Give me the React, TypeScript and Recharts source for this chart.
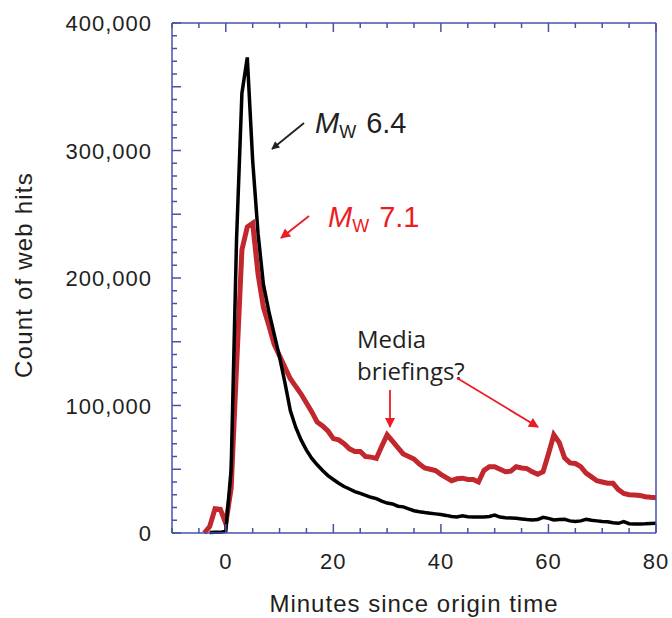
import React from 'react';
import { Line, LineChart, XAxis, YAxis } from 'recharts';

// minutes since origin time
const minutes = [
  -4, -3, -2, -1, 0, 1, 2, 3, 4, 5, 6, 7, 8, 9, 10, 11, 12, 13, 14, 15, 16, 17, 18, 19, 20,
  21, 22, 23, 24, 25, 26, 27, 28, 29, 30, 31, 32, 33, 34, 35, 36, 37, 38, 39, 40, 41, 42, 43,
  44, 45, 46, 47, 48, 49, 50, 51, 52, 53, 54, 55, 56, 57, 58, 59, 60, 61, 62, 63, 64, 65, 66,
  67, 68, 69, 70, 71, 72, 73, 74, 75, 76, 77, 78, 79, 80,
];

// Mw 6.4 (black)
const hitsMw64 = [
  null, 300, 500, 500, 1500, 50000, 230000, 345000, 373000, 292000, 235000, 195000, 174000,
  156000, 138000, 118000, 96000, 83000, 73000, 65000, 58500, 53500, 49000, 45000, 42000, 39000,
  36500, 34500, 32500, 31000, 29500, 28000, 27000, 25000, 23500, 22800, 21000, 20500, 19000,
  17500, 16700, 16000, 15500, 15000, 14500, 13800, 13000, 12500, 13500, 12800, 12500, 12500,
  12500, 13000, 14000, 12500, 12000, 11800, 11500, 11000, 10500, 10200, 10500, 12300, 11500,
  10200, 10500, 10800, 9500, 9000, 9500, 10700, 10000, 9500, 9000, 8800, 8000, 7600, 8900,
  7300, 7000, 7000, 7200, 7500, 7600,
];

// Mw 7.1 (red)
const hitsMw71 = [
  0, 5000, 19000, 18500, 7500, 35000, 130000, 222000, 240000, 243000, 203000, 177000, 163000,
  148000, 139000, 130000, 121000, 115000, 109000, 102000, 95000, 87000, 84000, 80000, 74000,
  73000, 70000, 66000, 64000, 64000, 60000, 59500, 58500, 68000, 77000, 72000, 67000, 62000,
  60000, 58000, 54000, 51000, 50000, 49000, 46000, 43500, 41000, 42500, 43000, 42000, 42000,
  40000, 49000, 52000, 52000, 50000, 48000, 48500, 52000, 51000, 50500, 48000, 46000, 48000,
  62000, 77000, 71000, 59000, 55000, 54500, 52000, 47000, 44000, 41000, 40000, 39000, 39000,
  34000, 31000, 30000, 29800, 29500, 28500, 28000, 27700,
];

const xTicks = [-10, -5, 0, 5, 10, 15, 20, 25, 30, 35, 40, 45, 50, 55, 60, 65, 70, 75, 80];
const xLabels = [0, 20, 40, 60, 80];
const yTicks = [
  0, 10000, 20000, 30000, 40000, 50000, 60000, 70000, 80000, 90000, 100000, 110000, 120000,
  130000, 140000, 150000, 160000, 170000, 180000, 190000, 200000, 210000, 220000, 230000,
  240000, 250000, 260000, 270000, 280000, 290000, 300000, 310000, 320000, 330000, 340000,
  350000, 360000, 370000, 380000, 390000, 400000,
];
const yLabels = [0, 100000, 200000, 300000, 400000];

const data = minutes.map((m, i) => ({ m, mw64: hitsMw64[i], mw71: hitsMw71[i] }));

const AXIS = '#4652a8';
const INK = '#231f20';
const RED_LINE = '#c1272d';
const RED_TEXT = '#ed1c24';
const SANS = '"Liberation Sans", Arial, Helvetica, sans-serif';
const HUMANIST = '"Open Sans", "Noto Sans", sans-serif';

const tickLen = (major: boolean) => (major ? 9 : 5);

function XTick({ x, y, payload, top }: any) {
  const v = payload.value as number;
  const major = v % 20 === 0;
  const dir = top ? 1 : -1;
  return (
    <g>
      <line x1={x} x2={x} y1={y} y2={y + dir * tickLen(major)} stroke={AXIS} strokeWidth={1.5} />
      {!top && xLabels.includes(v) && (
        <text x={x} y={y + 36} textAnchor="middle" fontSize={22} letterSpacing={1} fontFamily={SANS} fill={INK}>
          {v}
        </text>
      )}
    </g>
  );
}

function YTick({ x, y, payload, right }: any) {
  const v = payload.value as number;
  const major = v % 50000 === 0;
  const dir = right ? -1 : 1;
  return (
    <g>
      <line x1={x} x2={x + dir * tickLen(major)} y1={y} y2={y} stroke={AXIS} strokeWidth={1.5} />
      {!right && yLabels.includes(v) && (
        <text
          x={x - 20}
          y={y + 8}
          textAnchor="end"
          fontSize={22}
          letterSpacing={1}
          fontFamily={SANS}
          fill={INK}
        >
          {v.toLocaleString('en-US')}
        </text>
      )}
    </g>
  );
}

export default function App() {
  return (
    <div style={{ position: 'fixed', left: 0, top: 0, width: 672, height: 618, background: '#fff' }}>
      <LineChart width={672} height={618} data={data} margin={{ top: 22, right: 15, bottom: 84, left: 171 }}>
        <XAxis
          xAxisId="b"
          dataKey="m"
          type="number"
          domain={[-10, 80]}
          ticks={xTicks}
          interval={0}
          height={1}
          tickSize={0}
          tickMargin={0}
          axisLine={{ stroke: AXIS, strokeWidth: 1.5 }}
          tickLine={false}
          tick={<XTick />}
        />
        <XAxis
          xAxisId="t"
          orientation="top"
          dataKey="m"
          type="number"
          domain={[-10, 80]}
          ticks={xTicks}
          interval={0}
          height={1}
          tickSize={0}
          tickMargin={0}
          axisLine={{ stroke: AXIS, strokeWidth: 1.5 }}
          tickLine={false}
          tick={<XTick top />}
        />
        <YAxis
          yAxisId="l"
          type="number"
          domain={[0, 400000]}
          ticks={yTicks}
          interval={0}
          width={1}
          tickSize={0}
          tickMargin={0}
          axisLine={{ stroke: AXIS, strokeWidth: 1.5 }}
          tickLine={false}
          tick={<YTick />}
        />
        <YAxis
          yAxisId="r"
          orientation="right"
          type="number"
          domain={[0, 400000]}
          ticks={yTicks}
          interval={0}
          width={1}
          tickSize={0}
          tickMargin={0}
          axisLine={{ stroke: AXIS, strokeWidth: 1.5 }}
          tickLine={false}
          tick={<YTick right />}
        />
        <Line
          xAxisId="b"
          yAxisId="l"
          dataKey="mw71"
          stroke={RED_LINE}
          strokeWidth={5}
          dot={false}
          type="linear"
          isAnimationActive={false}
        />
        <Line
          xAxisId="b"
          yAxisId="l"
          dataKey="mw64"
          stroke="#000"
          strokeWidth={3.5}
          dot={false}
          type="linear"
          isAnimationActive={false}
        />
      </LineChart>
      <svg
        width={672}
        height={618}
        style={{ position: 'absolute', left: 0, top: 0, pointerEvents: 'none' }}
      >
        <defs>
          <marker id="headBlack" viewBox="0 0 10 10" refX="9" refY="5" markerWidth="9" markerHeight="8" markerUnits="userSpaceOnUse" orient="auto">
            <path d="M0,0 L10,5 L0,10 z" fill={INK} />
          </marker>
          <marker id="headRed" viewBox="0 0 10 10" refX="9" refY="5" markerWidth="11" markerHeight="10" markerUnits="userSpaceOnUse" orient="auto">
            <path d="M0,0 L10,5 L0,10 z" fill={RED_TEXT} />
          </marker>
        </defs>
        <text
          transform="translate(32,275) rotate(-90)"
          textAnchor="middle"
          fontSize={24}
          letterSpacing={1.2}
          fontFamily={SANS}
          fill={INK}
        >
          Count of web hits
        </text>
        <text x={414} y={612} textAnchor="middle" fontSize={24} letterSpacing={1} fontFamily={SANS} fill={INK}>
          Minutes since origin time
        </text>

        <text x={315} y={133} fontSize={29} fontFamily={SANS} fill={INK}>
          <tspan fontStyle="italic">M</tspan>
          <tspan fontSize={18} dy={5}>W</tspan>
          <tspan dy={-5} dx={10}>6.4</tspan>
        </text>
        <line x1={304} y1={123} x2={272} y2={149} stroke={INK} strokeWidth={1.8} markerEnd="url(#headBlack)" />

        <text x={328} y={227} fontSize={29} fontFamily={SANS} fill={RED_TEXT}>
          <tspan fontStyle="italic">M</tspan>
          <tspan fontSize={18} dy={5}>W</tspan>
          <tspan dy={-5} dx={10}>7.1</tspan>
        </text>
        <line x1={309} y1={216} x2={281} y2={238} stroke={RED_TEXT} strokeWidth={1.8} markerEnd="url(#headRed)" />

        <text fontSize={24} fontFamily={HUMANIST} fill={INK}>
          <tspan x={357} y={348}>Media</tspan>
          <tspan x={357} y={380}>briefings?</tspan>
        </text>
        <line x1={390} y1={390} x2={390} y2={427} stroke={RED_TEXT} strokeWidth={1.8} markerEnd="url(#headRed)" />
        <line x1={457} y1={378} x2={538} y2={427} stroke={RED_TEXT} strokeWidth={1.8} markerEnd="url(#headRed)" />
      </svg>
    </div>
  );
}
